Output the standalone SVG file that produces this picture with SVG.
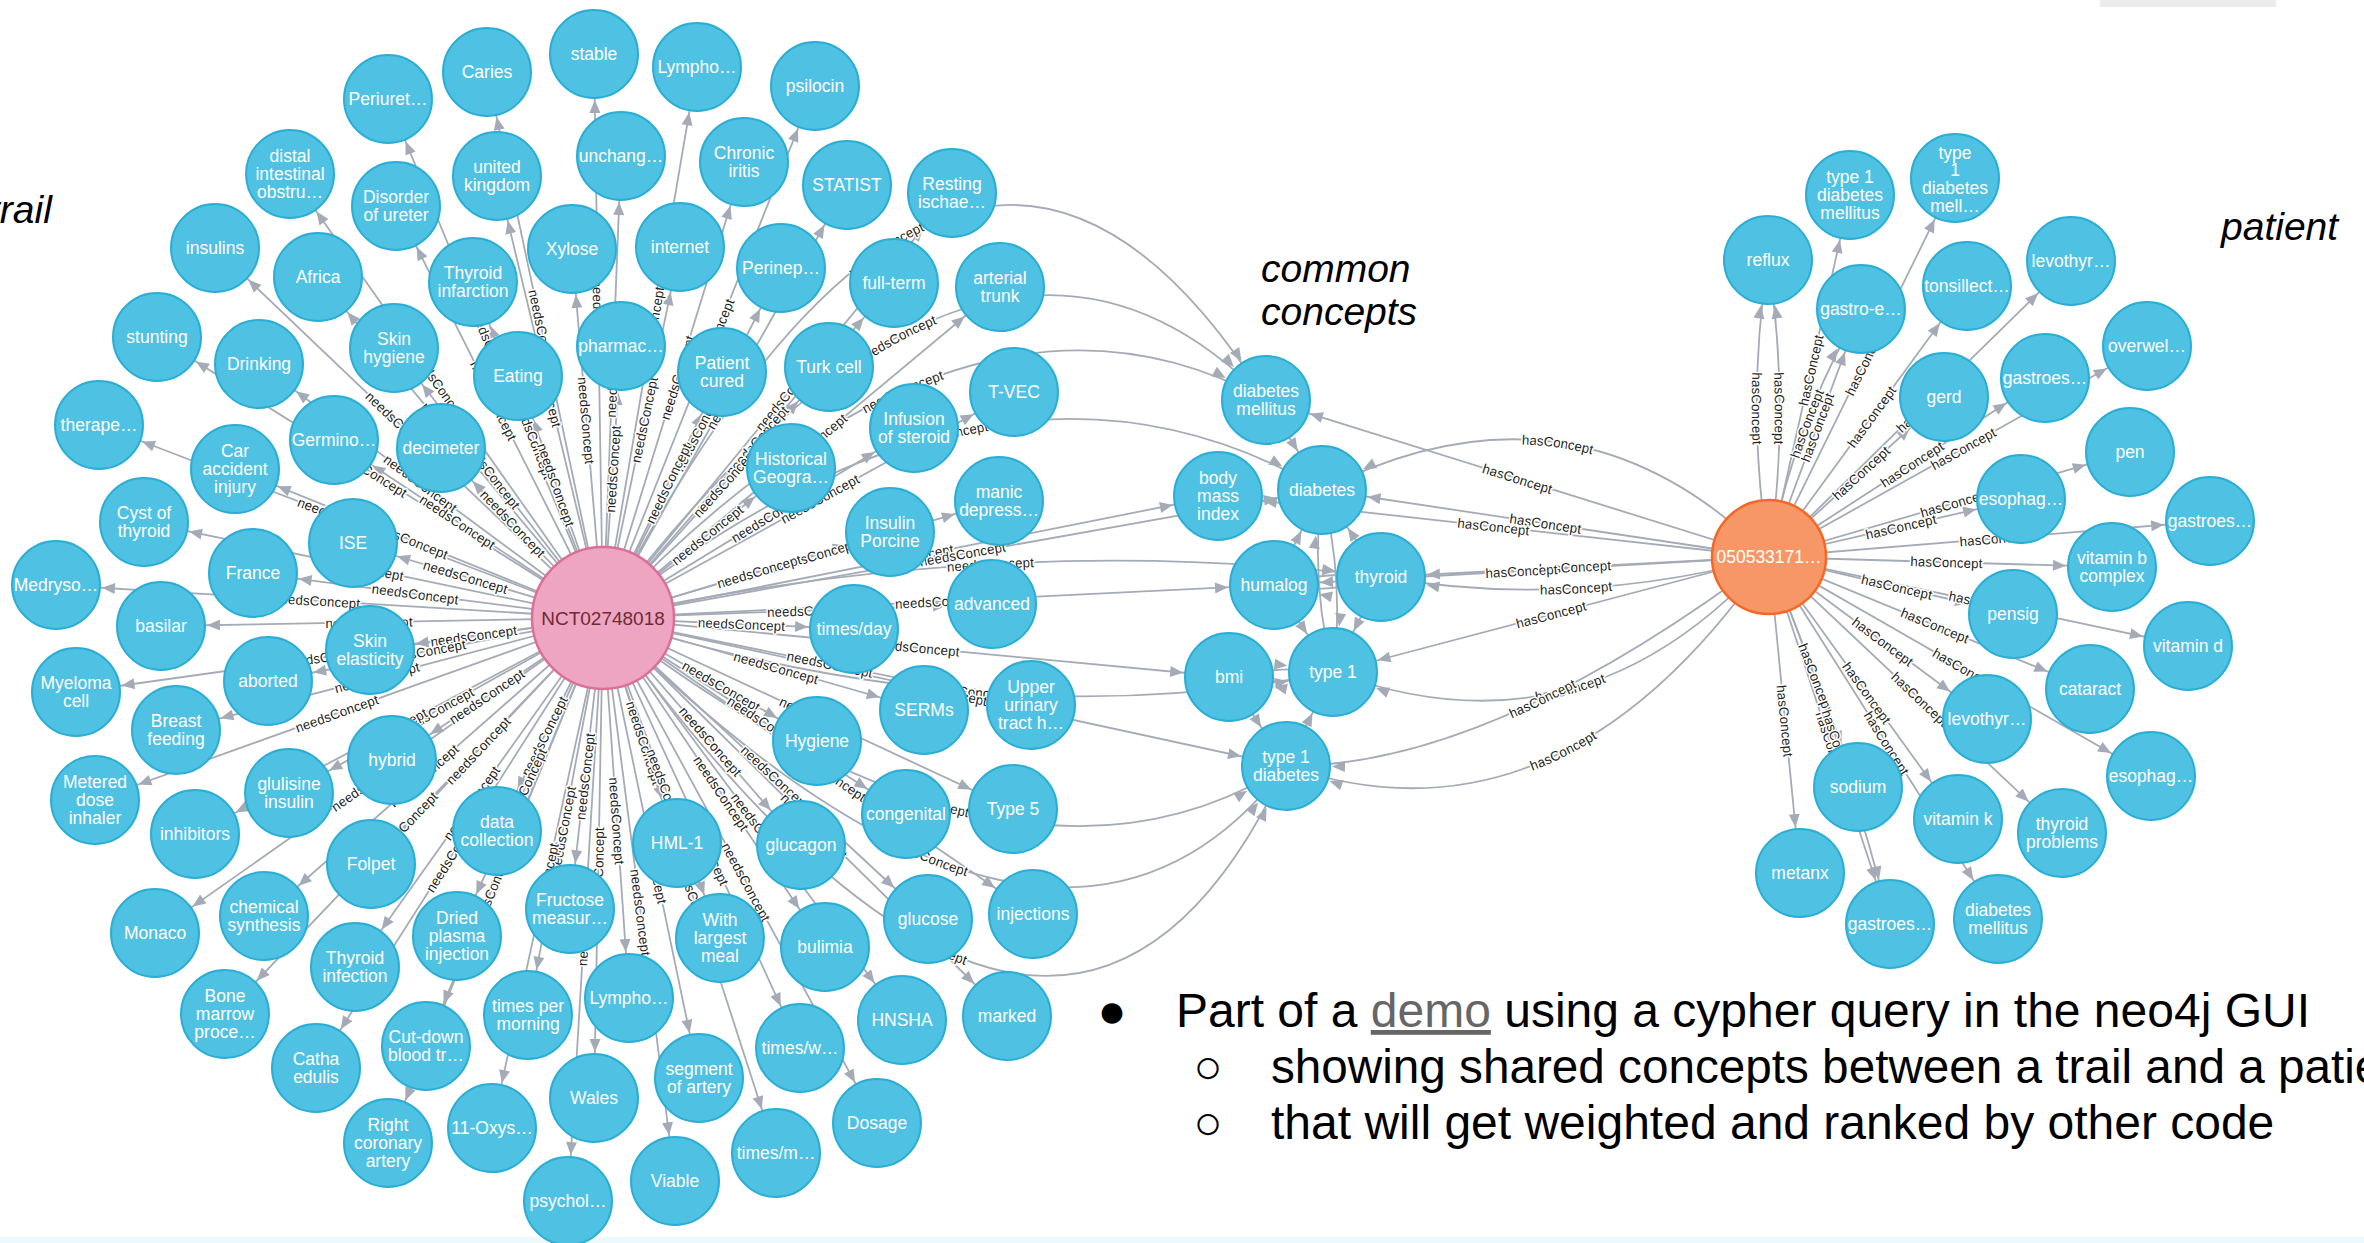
<svg xmlns="http://www.w3.org/2000/svg" width="2364" height="1243" viewBox="0 0 2364 1243">
<defs>
<style>
.c{fill:#4fc1e3;stroke:#2aaed6;stroke-width:2}
.t{font-family:"Liberation Sans",Arial,sans-serif;font-size:17.5px;fill:#fff;text-anchor:middle}
.e{fill:none;stroke:#a5abb6;stroke-width:1.8}
.me{marker-end:url(#ar)}
.ms{marker-start:url(#ar)}
.l{font-family:"Liberation Sans",Arial,sans-serif;font-size:13.5px;fill:#222;text-anchor:middle;dominant-baseline:central;paint-order:stroke;stroke:#fff;stroke-width:3px;stroke-linejoin:round}
.h{font-family:"Liberation Sans",Arial,sans-serif;font-style:italic;font-size:39px;fill:#000}
.b{font-family:"Liberation Sans",Arial,sans-serif;font-size:48px;fill:#000}
</style>
<marker id="ar" markerUnits="userSpaceOnUse" orient="auto-start-reverse" refX="46" refY="0" markerWidth="14" markerHeight="12" overflow="visible"><path d="M0,0L-13,-5.5L-13,5.5Z" fill="#a5abb6"/></marker>
</defs>
<rect width="2364" height="1243" fill="#fff"/>
<rect x="2100" y="0" width="176" height="7" fill="#ececec"/>
<rect x="0" y="1237" width="2364" height="6" fill="#eef9fd"/>

<g id="connectors">
<path id="e1" class="e ms" d="M388,99L603,618"/>
<path id="e2" class="e ms" d="M487,72L603,618"/>
<path id="e3" class="e ms" d="M594,54L603,618"/>
<path id="e4" class="e me" d="M603,618L697,67"/>
<path id="e5" class="e me" d="M603,618L815,86"/>
<path id="e6" class="e ms" d="M290,174L603,618"/>
<path id="e7" class="e ms" d="M396,206L603,618"/>
<path id="e8" class="e ms" d="M497,176L603,618"/>
<path id="e9" class="e me" d="M603,618L621,156"/>
<path id="e10" class="e me" d="M603,618L744,162"/>
<path id="e11" class="e me" d="M603,618L847,185"/>
<path id="e12" class="e me" d="M603,618L952,193"/>
<path id="e13" class="e ms" d="M215,248L603,618"/>
<path id="e14" class="e ms" d="M318,277L603,618"/>
<path id="e15" class="e ms" d="M473,282L603,618"/>
<path id="e16" class="e ms" d="M572,249L603,618"/>
<path id="e17" class="e me" d="M603,618L680,247"/>
<path id="e18" class="e me" d="M603,618L781,268"/>
<path id="e19" class="e me" d="M603,618L894,283"/>
<path id="e20" class="e me" d="M603,618L1000,287"/>
<path id="e21" class="e ms" d="M157,337L603,618"/>
<path id="e22" class="e ms" d="M259,364L603,618"/>
<path id="e23" class="e ms" d="M394,348L603,618"/>
<path id="e24" class="e ms" d="M518,376L603,618"/>
<path id="e25" class="e me" d="M603,618L621,346"/>
<path id="e26" class="e me" d="M603,618L722,372"/>
<path id="e27" class="e me" d="M603,618L829,367"/>
<path id="e28" class="e me" d="M603,618L1014,392"/>
<path id="e29" class="e me" d="M603,618L914,428"/>
<path id="e30" class="e ms" d="M99,425L603,618"/>
<path id="e31" class="e ms" d="M235,469L603,618"/>
<path id="e32" class="e ms" d="M334,440L603,618"/>
<path id="e33" class="e ms" d="M441,448L603,618"/>
<path id="e34" class="e me" d="M603,618L791,468"/>
<path id="e35" class="e me" d="M603,618L999,501"/>
<path id="e36" class="e ms" d="M144,522L603,618"/>
<path id="e37" class="e ms" d="M353,543L603,618"/>
<path id="e38" class="e me" d="M603,618L890,532"/>
<path id="e39" class="e ms" d="M56,585L603,618"/>
<path id="e40" class="e ms" d="M253,573L603,618"/>
<path id="e41" class="e me" d="M603,618L992,604"/>
<path id="e42" class="e me" d="M603,618L854,629"/>
<path id="e43" class="e ms" d="M161,626L603,618"/>
<path id="e44" class="e ms" d="M370,650L603,618"/>
<path id="e45" class="e ms" d="M268,681L603,618"/>
<path id="e46" class="e ms" d="M76,692L603,618"/>
<path id="e47" class="e ms" d="M176,730L603,618"/>
<path id="e48" class="e me" d="M603,618L924,710"/>
<path id="e49" class="e me" d="M603,618L1031,705"/>
<path id="e50" class="e me" d="M603,618L817,741"/>
<path id="e51" class="e ms" d="M392,760L603,618"/>
<path id="e52" class="e ms" d="M95,800L603,618"/>
<path id="e53" class="e ms" d="M289,793L603,618"/>
<path id="e54" class="e ms" d="M195,834L603,618"/>
<path id="e55" class="e ms" d="M371,864L603,618"/>
<path id="e56" class="e ms" d="M497,831L603,618"/>
<path id="e57" class="e me" d="M603,618L906,814"/>
<path id="e58" class="e me" d="M603,618L1013,809"/>
<path id="e59" class="e me" d="M603,618L677,843"/>
<path id="e60" class="e me" d="M603,618L801,845"/>
<path id="e61" class="e ms" d="M155,933L603,618"/>
<path id="e62" class="e ms" d="M264,916L603,618"/>
<path id="e63" class="e ms" d="M457,936L603,618"/>
<path id="e64" class="e ms" d="M570,909L603,618"/>
<path id="e65" class="e me" d="M603,618L720,938"/>
<path id="e66" class="e me" d="M603,618L928,919"/>
<path id="e67" class="e me" d="M603,618L1033,914"/>
<path id="e68" class="e ms" d="M355,967L603,618"/>
<path id="e69" class="e me" d="M603,618L825,947"/>
<path id="e70" class="e ms" d="M225,1014L603,618"/>
<path id="e71" class="e ms" d="M426,1046L603,618"/>
<path id="e72" class="e ms" d="M528,1015L603,618"/>
<path id="e73" class="e me" d="M603,618L629,998"/>
<path id="e74" class="e me" d="M603,618L902,1020"/>
<path id="e75" class="e me" d="M603,618L1007,1016"/>
<path id="e76" class="e ms" d="M316,1068L603,618"/>
<path id="e77" class="e me" d="M603,618L800,1048"/>
<path id="e78" class="e ms" d="M388,1143L603,618"/>
<path id="e79" class="e ms" d="M492,1128L603,618"/>
<path id="e80" class="e ms" d="M594,1098L603,618"/>
<path id="e81" class="e me" d="M603,618L699,1078"/>
<path id="e82" class="e me" d="M603,618L877,1123"/>
<path id="e83" class="e me" d="M603,618L776,1153"/>
<path id="e84" class="e ms" d="M568,1201L603,618"/>
<path id="e85" class="e me" d="M603,618L675,1181"/>

<path id="n1" class="e me" d="M603,618Q965,-79 1266,400"/>
<path id="n2" class="e me" d="M603,618Q985,111 1266,400"/>
<path id="n3" class="e me" d="M603,618Q965,235 1266,400"/>
<path id="n4" class="e me" d="M603,618L1218,496"/>
<path id="n5" class="e me" d="M603,618L1322,490"/>
<path id="n6" class="e me" d="M603,618Q1000,300 1322,490"/>
<path id="n7" class="e me" d="M603,618L1274,585"/>
<path id="n8" class="e me" d="M603,618Q1000,530 1381,577"/>
<path id="n9" class="e me" d="M603,618L1229,677"/>
<path id="n10" class="e me" d="M603,618Q990,740 1333,672"/>
<path id="n11" class="e me" d="M603,618L1286,766"/>
<path id="n12" class="e me" d="M603,618Q1015,938 1286,766"/>
<path id="n13" class="e me" d="M603,618Q1055,1068 1286,766"/>
<path id="n14" class="e me" d="M603,618Q1060,1250 1286,766"/>

<path id="h1" class="e ms" d="M1266,400L1769,557"/>
<path id="h2" class="e ms" d="M1322,490Q1574,362 1769,557"/>
<path id="h3" class="e ms" d="M1322,490L1769,557"/>
<path id="h4" class="e ms" d="M1218,496L1769,557"/>
<path id="h5" class="e ms" d="M1381,577L1769,557"/>
<path id="h6" class="e ms" d="M1381,577Q1575,610 1769,557"/>
<path id="h7" class="e ms" d="M1274,585L1769,557"/>
<path id="h8" class="e ms" d="M1333,672L1769,557"/>
<path id="h9" class="e ms" d="M1333,672Q1583,765 1769,557"/>
<path id="h10" class="e ms" d="M1286,766Q1488,768 1769,557"/>
<path id="h11" class="e ms" d="M1286,766Q1560,860 1769,557"/>

<path class="e me" d="M1266,400L1322,490"/>
<path class="e me" d="M1274,585L1322,490"/>
<path class="e me" d="M1381,577L1322,490"/>
<path class="e me" d="M1322,490Q1345,581 1333,672"/>
<path class="e me" d="M1333,672Q1310,581 1322,490"/>
<path class="e me" d="M1274,585Q1327,570 1381,577"/>
<path class="e me" d="M1381,577Q1328,596 1274,585"/>
<path class="e me" d="M1381,577L1333,672"/>
<path class="e me" d="M1274,585L1333,672"/>
<path class="e me" d="M1229,677Q1281,665 1333,672"/>
<path class="e me" d="M1333,672Q1281,688 1229,677"/>
<path class="e me" d="M1286,766L1333,672"/>
<path class="e me" d="M1229,677L1286,766"/>

<path id="r1" class="e ms" d="M1768,260Q1745,408 1769,557"/>
<path id="r2" class="e ms" d="M1768,260Q1791,408 1769,557"/>
<path id="r3" class="e me" d="M1769,557L1850,195"/>
<path id="r4" class="e me" d="M1769,557L1955,178"/>
<path id="r5" class="e me" d="M1769,557L1861,309"/>
<path id="r5b" class="e me" d="M1769,557Q1795,420 1861,309"/>
<path id="r6" class="e me" d="M1769,557L1967,286"/>
<path id="r7" class="e me" d="M1769,557L2071,261"/>
<path id="r8" class="e me" d="M1769,557L1944,397"/>
<path id="r9" class="e me" d="M1769,557L2045,378"/>
<path id="r10" class="e me" d="M1769,557L2147,346"/>
<path id="r11" class="e me" d="M1769,557L2130,452"/>
<path id="r12" class="e me" d="M1769,557L2021,499"/>
<path id="r13" class="e me" d="M1769,557L2210,521"/>
<path id="r14" class="e me" d="M1769,557L2112,567"/>
<path id="r15" class="e me" d="M1769,557L2013,614"/>
<path id="r16" class="e me" d="M1769,557L2188,646"/>
<path id="r17" class="e me" d="M1769,557L2090,689"/>
<path id="r18" class="e me" d="M1769,557L1987,719"/>
<path id="r19" class="e me" d="M1769,557L2151,776"/>
<path id="r20" class="e me" d="M1769,557L1858,787"/>
<path id="r21" class="e me" d="M1769,557L1958,819"/>
<path id="r22" class="e me" d="M1769,557L2062,833"/>
<path id="r23" class="e me" d="M1769,557L1800,873"/>
<path id="r24" class="e me" d="M1769,557L1890,924"/>
<path id="r24b" class="e me" d="M1769,557Q1850,760 1890,924"/>
<path id="r25" class="e me" d="M1769,557L1998,919"/>

<text class="l"><textPath href="#e1" startOffset="50%"><tspan dx="-13">needsConcept</tspan></textPath></text>
<text class="l"><textPath href="#e2" startOffset="50%"><tspan dx="-13">needsConcept</tspan></textPath></text>
<text class="l"><textPath href="#e3" startOffset="50%"><tspan dx="-13">needsConcept</tspan></textPath></text>
<text class="l"><textPath href="#e4" startOffset="50%"><tspan dx="13">needsConcept</tspan></textPath></text>
<text class="l"><textPath href="#e5" startOffset="50%"><tspan dx="13">needsConcept</tspan></textPath></text>
<text class="l"><textPath href="#e6" startOffset="50%"><tspan dx="-13">needsConcept</tspan></textPath></text>
<text class="l"><textPath href="#e7" startOffset="50%"><tspan dx="-13">needsConcept</tspan></textPath></text>
<text class="l"><textPath href="#e8" startOffset="50%"><tspan dx="-13">needsConcept</tspan></textPath></text>
<text class="l"><textPath href="#e9" startOffset="50%"><tspan dx="13">needsConcept</tspan></textPath></text>
<text class="l"><textPath href="#e10" startOffset="50%"><tspan dx="13">needsConcept</tspan></textPath></text>
<text class="l"><textPath href="#e11" startOffset="50%"><tspan dx="13">needsConcept</tspan></textPath></text>
<text class="l"><textPath href="#e12" startOffset="50%"><tspan dx="13">needsConcept</tspan></textPath></text>
<text class="l"><textPath href="#e13" startOffset="50%"><tspan dx="-13">needsConcept</tspan></textPath></text>
<text class="l"><textPath href="#e14" startOffset="50%"><tspan dx="-13">needsConcept</tspan></textPath></text>
<text class="l"><textPath href="#e15" startOffset="50%"><tspan dx="-13">needsConcept</tspan></textPath></text>
<text class="l"><textPath href="#e16" startOffset="50%"><tspan dx="-13">needsConcept</tspan></textPath></text>
<text class="l"><textPath href="#e17" startOffset="50%"><tspan dx="13">needsConcept</tspan></textPath></text>
<text class="l"><textPath href="#e18" startOffset="50%"><tspan dx="13">needsConcept</tspan></textPath></text>
<text class="l"><textPath href="#e19" startOffset="50%"><tspan dx="13">needsConcept</tspan></textPath></text>
<text class="l"><textPath href="#e20" startOffset="50%"><tspan dx="13">needsConcept</tspan></textPath></text>
<text class="l"><textPath href="#e21" startOffset="50%"><tspan dx="-13">needsConcept</tspan></textPath></text>
<text class="l"><textPath href="#e22" startOffset="50%"><tspan dx="-13">needsConcept</tspan></textPath></text>
<text class="l"><textPath href="#e23" startOffset="50%"><tspan dx="-13">needsConcept</tspan></textPath></text>
<text class="l"><textPath href="#e24" startOffset="50%"><tspan dx="-13">needsConcept</tspan></textPath></text>
<text class="l"><textPath href="#e25" startOffset="50%"><tspan dx="13">needsConcept</tspan></textPath></text>
<text class="l"><textPath href="#e26" startOffset="50%"><tspan dx="13">needsConcept</tspan></textPath></text>
<text class="l"><textPath href="#e27" startOffset="50%"><tspan dx="13">needsConcept</tspan></textPath></text>
<text class="l"><textPath href="#e28" startOffset="50%"><tspan dx="13">needsConcept</tspan></textPath></text>
<text class="l"><textPath href="#e29" startOffset="50%"><tspan dx="13">needsConcept</tspan></textPath></text>
<text class="l"><textPath href="#e30" startOffset="50%"><tspan dx="-13">needsConcept</tspan></textPath></text>
<text class="l"><textPath href="#e31" startOffset="50%"><tspan dx="-13">needsConcept</tspan></textPath></text>
<text class="l"><textPath href="#e32" startOffset="50%"><tspan dx="-13">needsConcept</tspan></textPath></text>
<text class="l"><textPath href="#e33" startOffset="50%"><tspan dx="-13">needsConcept</tspan></textPath></text>
<text class="l"><textPath href="#e34" startOffset="50%"><tspan dx="13">needsConcept</tspan></textPath></text>
<text class="l"><textPath href="#e35" startOffset="50%"><tspan dx="13">needsConcept</tspan></textPath></text>
<text class="l"><textPath href="#e36" startOffset="50%"><tspan dx="-13">needsConcept</tspan></textPath></text>
<text class="l"><textPath href="#e37" startOffset="50%"><tspan dx="-13">needsConcept</tspan></textPath></text>
<text class="l"><textPath href="#e38" startOffset="50%"><tspan dx="13">needsConcept</tspan></textPath></text>
<text class="l"><textPath href="#e39" startOffset="50%"><tspan dx="-13">needsConcept</tspan></textPath></text>
<text class="l"><textPath href="#e40" startOffset="50%"><tspan dx="-13">needsConcept</tspan></textPath></text>
<text class="l"><textPath href="#e41" startOffset="50%"><tspan dx="13">needsConcept</tspan></textPath></text>
<text class="l"><textPath href="#e42" startOffset="50%"><tspan dx="13">needsConcept</tspan></textPath></text>
<text class="l"><textPath href="#e43" startOffset="50%"><tspan dx="-13">needsConcept</tspan></textPath></text>
<text class="l"><textPath href="#e44" startOffset="50%"><tspan dx="-13">needsConcept</tspan></textPath></text>
<text class="l"><textPath href="#e45" startOffset="50%"><tspan dx="-13">needsConcept</tspan></textPath></text>
<text class="l"><textPath href="#e46" startOffset="50%"><tspan dx="-13">needsConcept</tspan></textPath></text>
<text class="l"><textPath href="#e47" startOffset="50%"><tspan dx="-13">needsConcept</tspan></textPath></text>
<text class="l"><textPath href="#e48" startOffset="50%"><tspan dx="13">needsConcept</tspan></textPath></text>
<text class="l"><textPath href="#e49" startOffset="50%"><tspan dx="13">needsConcept</tspan></textPath></text>
<text class="l"><textPath href="#e50" startOffset="50%"><tspan dx="13">needsConcept</tspan></textPath></text>
<text class="l"><textPath href="#e51" startOffset="50%"><tspan dx="-13">needsConcept</tspan></textPath></text>
<text class="l"><textPath href="#e52" startOffset="50%"><tspan dx="-13">needsConcept</tspan></textPath></text>
<text class="l"><textPath href="#e53" startOffset="50%"><tspan dx="-13">needsConcept</tspan></textPath></text>
<text class="l"><textPath href="#e54" startOffset="50%"><tspan dx="-13">needsConcept</tspan></textPath></text>
<text class="l"><textPath href="#e55" startOffset="50%"><tspan dx="-13">needsConcept</tspan></textPath></text>
<text class="l"><textPath href="#e56" startOffset="50%"><tspan dx="-13">needsConcept</tspan></textPath></text>
<text class="l"><textPath href="#e57" startOffset="50%"><tspan dx="13">needsConcept</tspan></textPath></text>
<text class="l"><textPath href="#e58" startOffset="50%"><tspan dx="13">needsConcept</tspan></textPath></text>
<text class="l"><textPath href="#e59" startOffset="50%"><tspan dx="13">needsConcept</tspan></textPath></text>
<text class="l"><textPath href="#e60" startOffset="50%"><tspan dx="13">needsConcept</tspan></textPath></text>
<text class="l"><textPath href="#e61" startOffset="50%"><tspan dx="-13">needsConcept</tspan></textPath></text>
<text class="l"><textPath href="#e62" startOffset="50%"><tspan dx="-13">needsConcept</tspan></textPath></text>
<text class="l"><textPath href="#e63" startOffset="50%"><tspan dx="-13">needsConcept</tspan></textPath></text>
<text class="l"><textPath href="#e64" startOffset="50%"><tspan dx="-13">needsConcept</tspan></textPath></text>
<text class="l"><textPath href="#e65" startOffset="50%"><tspan dx="13">needsConcept</tspan></textPath></text>
<text class="l"><textPath href="#e66" startOffset="50%"><tspan dx="13">needsConcept</tspan></textPath></text>
<text class="l"><textPath href="#e67" startOffset="50%"><tspan dx="13">needsConcept</tspan></textPath></text>
<text class="l"><textPath href="#e68" startOffset="50%"><tspan dx="-13">needsConcept</tspan></textPath></text>
<text class="l"><textPath href="#e69" startOffset="50%"><tspan dx="13">needsConcept</tspan></textPath></text>
<text class="l"><textPath href="#e70" startOffset="50%"><tspan dx="-13">needsConcept</tspan></textPath></text>
<text class="l"><textPath href="#e71" startOffset="50%"><tspan dx="-13">needsConcept</tspan></textPath></text>
<text class="l"><textPath href="#e72" startOffset="50%"><tspan dx="-13">needsConcept</tspan></textPath></text>
<text class="l"><textPath href="#e73" startOffset="50%"><tspan dx="13">needsConcept</tspan></textPath></text>
<text class="l"><textPath href="#e74" startOffset="50%"><tspan dx="13">needsConcept</tspan></textPath></text>
<text class="l"><textPath href="#e75" startOffset="50%"><tspan dx="13">needsConcept</tspan></textPath></text>
<text class="l"><textPath href="#e76" startOffset="50%"><tspan dx="-13">needsConcept</tspan></textPath></text>
<text class="l"><textPath href="#e77" startOffset="50%"><tspan dx="13">needsConcept</tspan></textPath></text>
<text class="l"><textPath href="#e78" startOffset="50%"><tspan dx="-13">needsConcept</tspan></textPath></text>
<text class="l"><textPath href="#e79" startOffset="50%"><tspan dx="-13">needsConcept</tspan></textPath></text>
<text class="l"><textPath href="#e80" startOffset="50%"><tspan dx="-13">needsConcept</tspan></textPath></text>
<text class="l"><textPath href="#e81" startOffset="50%"><tspan dx="13">needsConcept</tspan></textPath></text>
<text class="l"><textPath href="#e82" startOffset="50%"><tspan dx="13">needsConcept</tspan></textPath></text>
<text class="l"><textPath href="#e83" startOffset="50%"><tspan dx="13">needsConcept</tspan></textPath></text>
<text class="l"><textPath href="#e84" startOffset="50%"><tspan dx="-13">needsConcept</tspan></textPath></text>
<text class="l"><textPath href="#e85" startOffset="50%"><tspan dx="13">needsConcept</tspan></textPath></text>
<text class="l"><textPath href="#n1" startOffset="50%">needsConcept</textPath></text>
<text class="l"><textPath href="#n2" startOffset="50%">needsConcept</textPath></text>
<text class="l"><textPath href="#n3" startOffset="50%">needsConcept</textPath></text>
<text class="l"><textPath href="#n4" startOffset="50%">needsConcept</textPath></text>
<text class="l"><textPath href="#n5" startOffset="50%">needsConcept</textPath></text>
<text class="l"><textPath href="#n6" startOffset="50%">needsConcept</textPath></text>
<text class="l"><textPath href="#n7" startOffset="50%">needsConcept</textPath></text>
<text class="l"><textPath href="#n8" startOffset="50%">needsConcept</textPath></text>
<text class="l"><textPath href="#n9" startOffset="50%">needsConcept</textPath></text>
<text class="l"><textPath href="#n10" startOffset="50%">needsConcept</textPath></text>
<text class="l"><textPath href="#n11" startOffset="50%">needsConcept</textPath></text>
<text class="l"><textPath href="#n12" startOffset="50%">needsConcept</textPath></text>
<text class="l"><textPath href="#n13" startOffset="50%">needsConcept</textPath></text>
<text class="l"><textPath href="#n14" startOffset="50%">needsConcept</textPath></text>
<text class="l"><textPath href="#h1" startOffset="50%">hasConcept</textPath></text>
<text class="l"><textPath href="#h2" startOffset="50%">hasConcept</textPath></text>
<text class="l"><textPath href="#h3" startOffset="50%">hasConcept</textPath></text>
<text class="l"><textPath href="#h4" startOffset="50%">hasConcept</textPath></text>
<text class="l"><textPath href="#h5" startOffset="50%">hasConcept</textPath></text>
<text class="l"><textPath href="#h6" startOffset="50%">hasConcept</textPath></text>
<text class="l"><textPath href="#h7" startOffset="50%">hasConcept</textPath></text>
<text class="l"><textPath href="#h8" startOffset="50%">hasConcept</textPath></text>
<text class="l"><textPath href="#h9" startOffset="50%">hasConcept</textPath></text>
<text class="l"><textPath href="#h10" startOffset="50%">hasConcept</textPath></text>
<text class="l"><textPath href="#h11" startOffset="50%">hasConcept</textPath></text>
<text class="l"><textPath href="#r1" startOffset="50%">hasConcept</textPath></text>
<text class="l"><textPath href="#r2" startOffset="50%">hasConcept</textPath></text>
<text class="l"><textPath href="#r3" startOffset="50%"><tspan dx="6">hasConcept</tspan></textPath></text>
<text class="l"><textPath href="#r4" startOffset="50%"><tspan dx="6">hasConcept</tspan></textPath></text>
<text class="l"><textPath href="#r5" startOffset="50%"><tspan dx="6">hasConcept</tspan></textPath></text>
<text class="l"><textPath href="#r5b" startOffset="50%"><tspan dx="6">hasConcept</tspan></textPath></text>
<text class="l"><textPath href="#r6" startOffset="50%"><tspan dx="6">hasConcept</tspan></textPath></text>
<text class="l"><textPath href="#r7" startOffset="50%"><tspan dx="6">hasConcept</tspan></textPath></text>
<text class="l"><textPath href="#r8" startOffset="50%"><tspan dx="6">hasConcept</tspan></textPath></text>
<text class="l"><textPath href="#r9" startOffset="50%"><tspan dx="6">hasConcept</tspan></textPath></text>
<text class="l"><textPath href="#r10" startOffset="50%"><tspan dx="6">hasConcept</tspan></textPath></text>
<text class="l"><textPath href="#r11" startOffset="50%"><tspan dx="6">hasConcept</tspan></textPath></text>
<text class="l"><textPath href="#r12" startOffset="50%"><tspan dx="6">hasConcept</tspan></textPath></text>
<text class="l"><textPath href="#r13" startOffset="50%"><tspan dx="6">hasConcept</tspan></textPath></text>
<text class="l"><textPath href="#r14" startOffset="50%"><tspan dx="6">hasConcept</tspan></textPath></text>
<text class="l"><textPath href="#r15" startOffset="50%"><tspan dx="6">hasConcept</tspan></textPath></text>
<text class="l"><textPath href="#r16" startOffset="50%"><tspan dx="6">hasConcept</tspan></textPath></text>
<text class="l"><textPath href="#r17" startOffset="50%"><tspan dx="6">hasConcept</tspan></textPath></text>
<text class="l"><textPath href="#r18" startOffset="50%"><tspan dx="6">hasConcept</tspan></textPath></text>
<text class="l"><textPath href="#r19" startOffset="50%"><tspan dx="6">hasConcept</tspan></textPath></text>
<text class="l"><textPath href="#r20" startOffset="50%"><tspan dx="6">hasConcept</tspan></textPath></text>
<text class="l"><textPath href="#r21" startOffset="50%"><tspan dx="6">hasConcept</tspan></textPath></text>
<text class="l"><textPath href="#r22" startOffset="50%"><tspan dx="6">hasConcept</tspan></textPath></text>
<text class="l"><textPath href="#r23" startOffset="50%"><tspan dx="6">hasConcept</tspan></textPath></text>
<text class="l"><textPath href="#r24" startOffset="50%"><tspan dx="6">hasConcept</tspan></textPath></text>
<text class="l"><textPath href="#r24b" startOffset="50%"><tspan dx="6">hasConcept</tspan></textPath></text>
<text class="l"><textPath href="#r25" startOffset="50%"><tspan dx="6">hasConcept</tspan></textPath></text>
</g>

<g id="trial-concepts">
<g id="n01" transform="translate(388,99)"><circle class="c" r="44"/><text class="t" y="6">Periuret…</text></g>
<g id="n02" transform="translate(487,72)"><circle class="c" r="44"/><text class="t" y="6">Caries</text></g>
<g id="n03" transform="translate(594,54)"><circle class="c" r="44"/><text class="t" y="6">stable</text></g>
<g id="n04" transform="translate(697,67)"><circle class="c" r="44"/><text class="t" y="6">Lympho…</text></g>
<g id="n05" transform="translate(815,86)"><circle class="c" r="44"/><text class="t" y="6">psilocin</text></g>
<g id="n06" transform="translate(290,174)"><circle class="c" r="44"/><text class="t"><tspan x="0" y="-12">distal</tspan><tspan x="0" y="6">intestinal</tspan><tspan x="0" y="24">obstru…</tspan></text></g>
<g id="n07" transform="translate(396,206)"><circle class="c" r="44"/><text class="t"><tspan x="0" y="-3">Disorder</tspan><tspan x="0" y="15">of ureter</tspan></text></g>
<g id="n08" transform="translate(497,176)"><circle class="c" r="44"/><text class="t"><tspan x="0" y="-3">united</tspan><tspan x="0" y="15">kingdom</tspan></text></g>
<g id="n09" transform="translate(621,156)"><circle class="c" r="44"/><text class="t" y="6">unchang…</text></g>
<g id="n10" transform="translate(744,162)"><circle class="c" r="44"/><text class="t"><tspan x="0" y="-3">Chronic</tspan><tspan x="0" y="15">iritis</tspan></text></g>
<g id="n11" transform="translate(847,185)"><circle class="c" r="44"/><text class="t" y="6">STATIST</text></g>
<g id="n12" transform="translate(952,193)"><circle class="c" r="44"/><text class="t"><tspan x="0" y="-3">Resting</tspan><tspan x="0" y="15">ischae…</tspan></text></g>
<g id="n13" transform="translate(215,248)"><circle class="c" r="44"/><text class="t" y="6">insulins</text></g>
<g id="n14" transform="translate(318,277)"><circle class="c" r="44"/><text class="t" y="6">Africa</text></g>
<g id="n15" transform="translate(473,282)"><circle class="c" r="44"/><text class="t"><tspan x="0" y="-3">Thyroid</tspan><tspan x="0" y="15">infarction</tspan></text></g>
<g id="n16" transform="translate(572,249)"><circle class="c" r="44"/><text class="t" y="6">Xylose</text></g>
<g id="n17" transform="translate(680,247)"><circle class="c" r="44"/><text class="t" y="6">internet</text></g>
<g id="n18" transform="translate(781,268)"><circle class="c" r="44"/><text class="t" y="6">Perinep…</text></g>
<g id="n19" transform="translate(894,283)"><circle class="c" r="44"/><text class="t" y="6">full-term</text></g>
<g id="n20" transform="translate(1000,287)"><circle class="c" r="44"/><text class="t"><tspan x="0" y="-3">arterial</tspan><tspan x="0" y="15">trunk</tspan></text></g>
<g id="n21" transform="translate(157,337)"><circle class="c" r="44"/><text class="t" y="6">stunting</text></g>
<g id="n22" transform="translate(259,364)"><circle class="c" r="44"/><text class="t" y="6">Drinking</text></g>
<g id="n23" transform="translate(394,348)"><circle class="c" r="44"/><text class="t"><tspan x="0" y="-3">Skin</tspan><tspan x="0" y="15">hygiene</tspan></text></g>
<g id="n24" transform="translate(518,376)"><circle class="c" r="44"/><text class="t" y="6">Eating</text></g>
<g id="n25" transform="translate(621,346)"><circle class="c" r="44"/><text class="t" y="6">pharmac…</text></g>
<g id="n26" transform="translate(722,372)"><circle class="c" r="44"/><text class="t"><tspan x="0" y="-3">Patient</tspan><tspan x="0" y="15">cured</tspan></text></g>
<g id="n27" transform="translate(829,367)"><circle class="c" r="44"/><text class="t" y="6">Turk cell</text></g>
<g id="n28" transform="translate(1014,392)"><circle class="c" r="44"/><text class="t" y="6">T-VEC</text></g>
<g id="n29" transform="translate(914,428)"><circle class="c" r="44"/><text class="t"><tspan x="0" y="-3">Infusion</tspan><tspan x="0" y="15">of steroid</tspan></text></g>
<g id="n30" transform="translate(99,425)"><circle class="c" r="44"/><text class="t" y="6">therape…</text></g>
<g id="n31" transform="translate(235,469)"><circle class="c" r="44"/><text class="t"><tspan x="0" y="-12">Car</tspan><tspan x="0" y="6">accident</tspan><tspan x="0" y="24">injury</tspan></text></g>
<g id="n32" transform="translate(334,440)"><circle class="c" r="44"/><text class="t" y="6">Germino…</text></g>
<g id="n33" transform="translate(441,448)"><circle class="c" r="44"/><text class="t" y="6">decimeter</text></g>
<g id="n34" transform="translate(791,468)"><circle class="c" r="44"/><text class="t"><tspan x="0" y="-3">Historical</tspan><tspan x="0" y="15">Geogra…</tspan></text></g>
<g id="n35" transform="translate(999,501)"><circle class="c" r="44"/><text class="t"><tspan x="0" y="-3">manic</tspan><tspan x="0" y="15">depress…</tspan></text></g>
<g id="n36" transform="translate(144,522)"><circle class="c" r="44"/><text class="t"><tspan x="0" y="-3">Cyst of</tspan><tspan x="0" y="15">thyroid</tspan></text></g>
<g id="n37" transform="translate(353,543)"><circle class="c" r="44"/><text class="t" y="6">ISE</text></g>
<g id="n38" transform="translate(890,532)"><circle class="c" r="44"/><text class="t"><tspan x="0" y="-3">Insulin</tspan><tspan x="0" y="15">Porcine</tspan></text></g>
<g id="n39" transform="translate(56,585)"><circle class="c" r="44"/><text class="t" y="6">Medryso…</text></g>
<g id="n40" transform="translate(253,573)"><circle class="c" r="44"/><text class="t" y="6">France</text></g>
<g id="n41" transform="translate(992,604)"><circle class="c" r="44"/><text class="t" y="6">advanced</text></g>
<g id="n42" transform="translate(854,629)"><circle class="c" r="44"/><text class="t" y="6">times/day</text></g>
<g id="n43" transform="translate(161,626)"><circle class="c" r="44"/><text class="t" y="6">basilar</text></g>
<g id="n44" transform="translate(370,650)"><circle class="c" r="44"/><text class="t"><tspan x="0" y="-3">Skin</tspan><tspan x="0" y="15">elasticity</tspan></text></g>
<g id="n45" transform="translate(268,681)"><circle class="c" r="44"/><text class="t" y="6">aborted</text></g>
<g id="n46" transform="translate(76,692)"><circle class="c" r="44"/><text class="t"><tspan x="0" y="-3">Myeloma</tspan><tspan x="0" y="15">cell</tspan></text></g>
<g id="n47" transform="translate(176,730)"><circle class="c" r="44"/><text class="t"><tspan x="0" y="-3">Breast</tspan><tspan x="0" y="15">feeding</tspan></text></g>
<g id="n48" transform="translate(924,710)"><circle class="c" r="44"/><text class="t" y="6">SERMs</text></g>
<g id="n49" transform="translate(1031,705)"><circle class="c" r="44"/><text class="t"><tspan x="0" y="-12">Upper</tspan><tspan x="0" y="6">urinary</tspan><tspan x="0" y="24">tract h…</tspan></text></g>
<g id="n50" transform="translate(817,741)"><circle class="c" r="44"/><text class="t" y="6">Hygiene</text></g>
<g id="n51" transform="translate(392,760)"><circle class="c" r="44"/><text class="t" y="6">hybrid</text></g>
<g id="n52" transform="translate(95,800)"><circle class="c" r="44"/><text class="t"><tspan x="0" y="-12">Metered</tspan><tspan x="0" y="6">dose</tspan><tspan x="0" y="24">inhaler</tspan></text></g>
<g id="n53" transform="translate(289,793)"><circle class="c" r="44"/><text class="t"><tspan x="0" y="-3">glulisine</tspan><tspan x="0" y="15">insulin</tspan></text></g>
<g id="n54" transform="translate(195,834)"><circle class="c" r="44"/><text class="t" y="6">inhibitors</text></g>
<g id="n55" transform="translate(371,864)"><circle class="c" r="44"/><text class="t" y="6">Folpet</text></g>
<g id="n56" transform="translate(497,831)"><circle class="c" r="44"/><text class="t"><tspan x="0" y="-3">data</tspan><tspan x="0" y="15">collection</tspan></text></g>
<g id="n57" transform="translate(906,814)"><circle class="c" r="44"/><text class="t" y="6">congenital</text></g>
<g id="n58" transform="translate(1013,809)"><circle class="c" r="44"/><text class="t" y="6">Type 5</text></g>
<g id="n59" transform="translate(677,843)"><circle class="c" r="44"/><text class="t" y="6">HML-1</text></g>
<g id="n60" transform="translate(801,845)"><circle class="c" r="44"/><text class="t" y="6">glucagon</text></g>
<g id="n61" transform="translate(155,933)"><circle class="c" r="44"/><text class="t" y="6">Monaco</text></g>
<g id="n62" transform="translate(264,916)"><circle class="c" r="44"/><text class="t"><tspan x="0" y="-3">chemical</tspan><tspan x="0" y="15">synthesis</tspan></text></g>
<g id="n63" transform="translate(457,936)"><circle class="c" r="44"/><text class="t"><tspan x="0" y="-12">Dried</tspan><tspan x="0" y="6">plasma</tspan><tspan x="0" y="24">injection</tspan></text></g>
<g id="n64" transform="translate(570,909)"><circle class="c" r="44"/><text class="t"><tspan x="0" y="-3">Fructose</tspan><tspan x="0" y="15">measur…</tspan></text></g>
<g id="n65" transform="translate(720,938)"><circle class="c" r="44"/><text class="t"><tspan x="0" y="-12">With</tspan><tspan x="0" y="6">largest</tspan><tspan x="0" y="24">meal</tspan></text></g>
<g id="n66" transform="translate(928,919)"><circle class="c" r="44"/><text class="t" y="6">glucose</text></g>
<g id="n67" transform="translate(1033,914)"><circle class="c" r="44"/><text class="t" y="6">injections</text></g>
<g id="n68" transform="translate(355,967)"><circle class="c" r="44"/><text class="t"><tspan x="0" y="-3">Thyroid</tspan><tspan x="0" y="15">infection</tspan></text></g>
<g id="n69" transform="translate(825,947)"><circle class="c" r="44"/><text class="t" y="6">bulimia</text></g>
<g id="n70" transform="translate(225,1014)"><circle class="c" r="44"/><text class="t"><tspan x="0" y="-12">Bone</tspan><tspan x="0" y="6">marrow</tspan><tspan x="0" y="24">proce…</tspan></text></g>
<g id="n71" transform="translate(426,1046)"><circle class="c" r="44"/><text class="t"><tspan x="0" y="-3">Cut-down</tspan><tspan x="0" y="15">blood tr…</tspan></text></g>
<g id="n72" transform="translate(528,1015)"><circle class="c" r="44"/><text class="t"><tspan x="0" y="-3">times per</tspan><tspan x="0" y="15">morning</tspan></text></g>
<g id="n73" transform="translate(629,998)"><circle class="c" r="44"/><text class="t" y="6">Lympho…</text></g>
<g id="n74" transform="translate(902,1020)"><circle class="c" r="44"/><text class="t" y="6">HNSHA</text></g>
<g id="n75" transform="translate(1007,1016)"><circle class="c" r="44"/><text class="t" y="6">marked</text></g>
<g id="n76" transform="translate(316,1068)"><circle class="c" r="44"/><text class="t"><tspan x="0" y="-3">Catha</tspan><tspan x="0" y="15">edulis</tspan></text></g>
<g id="n77" transform="translate(800,1048)"><circle class="c" r="44"/><text class="t" y="6">times/w…</text></g>
<g id="n78" transform="translate(388,1143)"><circle class="c" r="44"/><text class="t"><tspan x="0" y="-12">Right</tspan><tspan x="0" y="6">coronary</tspan><tspan x="0" y="24">artery</tspan></text></g>
<g id="n79" transform="translate(492,1128)"><circle class="c" r="44"/><text class="t" y="6">11-Oxys…</text></g>
<g id="n80" transform="translate(594,1098)"><circle class="c" r="44"/><text class="t" y="6">Wales</text></g>
<g id="n81" transform="translate(699,1078)"><circle class="c" r="44"/><text class="t"><tspan x="0" y="-3">segment</tspan><tspan x="0" y="15">of artery</tspan></text></g>
<g id="n82" transform="translate(877,1123)"><circle class="c" r="44"/><text class="t" y="6">Dosage</text></g>
<g id="n83" transform="translate(776,1153)"><circle class="c" r="44"/><text class="t" y="6">times/m…</text></g>
<g id="n84" transform="translate(568,1201)"><circle class="c" r="44"/><text class="t" y="6">psychol…</text></g>
<g id="n85" transform="translate(675,1181)"><circle class="c" r="44"/><text class="t" y="6">Viable</text></g>
</g>

<g id="trial" transform="translate(603,618)"><circle r="71" fill="#eea5c1" stroke="#dc6f98" stroke-width="2.5"/><text y="7" text-anchor="middle" font-family="Liberation Sans, Arial, sans-serif" font-size="19" fill="#6e2a36">NCT02748018</text></g>

<g id="common-concepts">
<g id="m1" transform="translate(1266,400)"><circle class="c" r="44"/><text class="t"><tspan x="0" y="-3">diabetes</tspan><tspan x="0" y="15">mellitus</tspan></text></g>
<g id="m2" transform="translate(1218,496)"><circle class="c" r="44"/><text class="t"><tspan x="0" y="-12">body</tspan><tspan x="0" y="6">mass</tspan><tspan x="0" y="24">index</tspan></text></g>
<g id="m3" transform="translate(1322,490)"><circle class="c" r="44"/><text class="t" y="6">diabetes</text></g>
<g id="m4" transform="translate(1274,585)"><circle class="c" r="44"/><text class="t" y="6">humalog</text></g>
<g id="m5" transform="translate(1381,577)"><circle class="c" r="44"/><text class="t" y="6">thyroid</text></g>
<g id="m6" transform="translate(1229,677)"><circle class="c" r="44"/><text class="t" y="6">bmi</text></g>
<g id="m7" transform="translate(1333,672)"><circle class="c" r="44"/><text class="t" y="6">type 1</text></g>
<g id="m8" transform="translate(1286,766)"><circle class="c" r="44"/><text class="t"><tspan x="0" y="-3">type 1</tspan><tspan x="0" y="15">diabetes</tspan></text></g>
</g>

<g id="patient-concepts">
<g id="p01" transform="translate(1768,260)"><circle class="c" r="44"/><text class="t" y="6">reflux</text></g>
<g id="p02" transform="translate(1850,195)"><circle class="c" r="44"/><text class="t"><tspan x="0" y="-12">type 1</tspan><tspan x="0" y="6">diabetes</tspan><tspan x="0" y="24">mellitus</tspan></text></g>
<g id="p03" transform="translate(1955,178)"><circle class="c" r="44"/><text class="t"><tspan x="0" y="-19">type</tspan><tspan x="0" y="-2">1</tspan><tspan x="0" y="16">diabetes</tspan><tspan x="0" y="34">mell…</tspan></text></g>
<g id="p04" transform="translate(1861,309)"><circle class="c" r="44"/><text class="t" y="6">gastro-e…</text></g>
<g id="p05" transform="translate(1967,286)"><circle class="c" r="44"/><text class="t" y="6">tonsillect…</text></g>
<g id="p06" transform="translate(2071,261)"><circle class="c" r="44"/><text class="t" y="6">levothyr…</text></g>
<g id="p07" transform="translate(1944,397)"><circle class="c" r="44"/><text class="t" y="6">gerd</text></g>
<g id="p08" transform="translate(2045,378)"><circle class="c" r="44"/><text class="t" y="6">gastroes…</text></g>
<g id="p09" transform="translate(2147,346)"><circle class="c" r="44"/><text class="t" y="6">overwel…</text></g>
<g id="p10" transform="translate(2130,452)"><circle class="c" r="44"/><text class="t" y="6">pen</text></g>
<g id="p11" transform="translate(2021,499)"><circle class="c" r="44"/><text class="t" y="6">esophag…</text></g>
<g id="p12" transform="translate(2210,521)"><circle class="c" r="44"/><text class="t" y="6">gastroes…</text></g>
<g id="p13" transform="translate(2112,567)"><circle class="c" r="44"/><text class="t"><tspan x="0" y="-3">vitamin b</tspan><tspan x="0" y="15">complex</tspan></text></g>
<g id="p14" transform="translate(2013,614)"><circle class="c" r="44"/><text class="t" y="6">pensig</text></g>
<g id="p15" transform="translate(2188,646)"><circle class="c" r="44"/><text class="t" y="6">vitamin d</text></g>
<g id="p16" transform="translate(2090,689)"><circle class="c" r="44"/><text class="t" y="6">cataract</text></g>
<g id="p17" transform="translate(1987,719)"><circle class="c" r="44"/><text class="t" y="6">levothyr…</text></g>
<g id="p18" transform="translate(2151,776)"><circle class="c" r="44"/><text class="t" y="6">esophag…</text></g>
<g id="p19" transform="translate(1858,787)"><circle class="c" r="44"/><text class="t" y="6">sodium</text></g>
<g id="p20" transform="translate(1958,819)"><circle class="c" r="44"/><text class="t" y="6">vitamin k</text></g>
<g id="p21" transform="translate(2062,833)"><circle class="c" r="44"/><text class="t"><tspan x="0" y="-3">thyroid</tspan><tspan x="0" y="15">problems</tspan></text></g>
<g id="p22" transform="translate(1800,873)"><circle class="c" r="44"/><text class="t" y="6">metanx</text></g>
<g id="p23" transform="translate(1890,924)"><circle class="c" r="44"/><text class="t" y="6">gastroes…</text></g>
<g id="p24" transform="translate(1998,919)"><circle class="c" r="44"/><text class="t"><tspan x="0" y="-3">diabetes</tspan><tspan x="0" y="15">mellitus</tspan></text></g>
</g>

<g id="patient" transform="translate(1769,557)"><circle r="57" fill="#f79767" stroke="#f36924" stroke-width="2.5"/><text class="t" y="6">050533171…</text></g>

<g id="annotations">
<text class="h" x="-11" y="223">trail</text>
<text class="h" x="1261" y="282">common</text>
<text class="h" x="1261" y="325">concepts</text>
<text class="h" x="2221" y="240">patient</text>
<text class="b" x="1112" y="1027" text-anchor="middle">●</text>
<text class="b" x="1176" y="1027">Part of a <tspan fill="#666" text-decoration="underline">demo</tspan> using a cypher query in the neo4j GUI</text>
<text class="b" x="1208" y="1083" text-anchor="middle">○</text>
<text class="b" x="1271" y="1083" textLength="1150" lengthAdjust="spacingAndGlyphs">showing shared concepts between a trail and a patient</text>
<text class="b" x="1208" y="1139" text-anchor="middle">○</text>
<text class="b" x="1271" y="1139">that will get weighted and ranked by other code</text>
</g>
</svg>
